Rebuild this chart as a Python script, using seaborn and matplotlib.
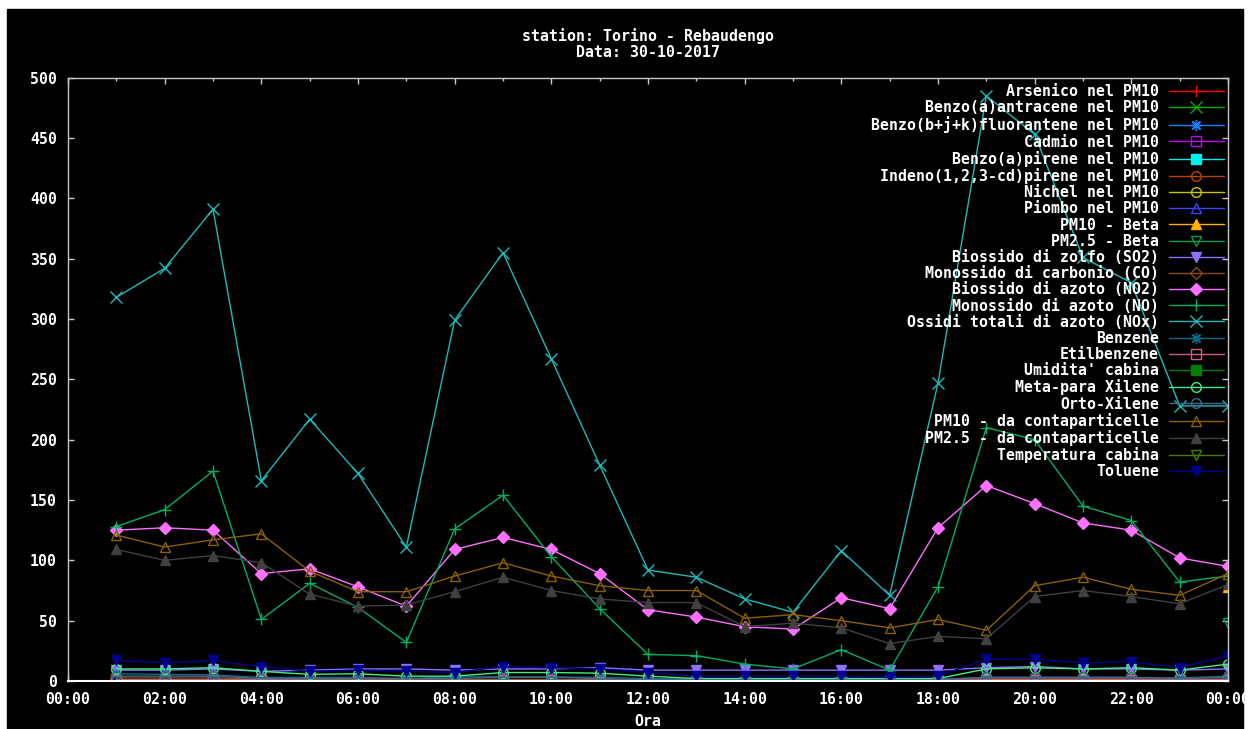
import numpy as np
import matplotlib
matplotlib.use("Agg")
import matplotlib.pyplot as plt
from matplotlib.lines import Line2D
from matplotlib.patches import Rectangle
import seaborn as sns

# ---------------- data ----------------
hours = list(range(1, 25))
xtick_pos = list(range(0, 25, 2))
xtick_labels = ["00:00", "02:00", "04:00", "06:00", "08:00", "10:00", "12:00",
                "14:00", "16:00", "18:00", "20:00", "22:00", "00:00"]
ytick_pos = list(range(0, 501, 50))

nan = np.nan
arsenico = [nan] * 23 + [0.6]
benzo_a_antracene = [nan] * 23 + [0.1]
benzo_bjk_fluorantene = [nan] * 23 + [0.3]
cadmio = [nan] * 23 + [0.1]
benzo_a_pirene = [nan] * 23 + [0.1]
indeno = [nan] * 23 + [0.1]
nichel = [nan] * 23 + [2.1]
piombo = [nan] * 23 + [0.02]
pm10_beta = [nan] * 23 + [78]
pm25_beta = [nan] * 23 + [48]
so2 = [9, 9, 10, 8, 9, 10, 10, 9, 10, 10, 11, 9, 9, 9, 9, 9, 9, 9, 11, 12, 10, 10, 9, 10]
co = [2.5, 2.5, 2.5, 1.5, 1.2, 1.2, 1.0, 1.0, 1.2, 1.2, 1.0, 0.8, 0.7, 0.6, 0.6, 0.7,
      0.7, 0.9, 2.0, 2.0, 2.0, 2.0, 1.5, 1.6]
no2 = [125, 127, 125, 89, 93, 78, 62, 109, 119, 109, 89, 59, 53, 45, 43, 69, 60, 127,
       162, 147, 131, 125, 102, 95]
no = [128, 142, 174, 51, 81, 61, 32, 126, 154, 103, 60, 22, 21, 14, 10, 26, 9, 78,
      210, 200, 145, 133, 82, 87]
nox = [318, 342, 391, 166, 217, 172, 111, 299, 355, 267, 179, 92, 86, 68, 57, 108, 71,
       247, 485, 453, 351, 330, 228, 228]
benzene = [6, 5.5, 5, 3, 3, 3, 2, 3.5, 3.5, 3.5, 3, 2, 1.5, 1.5, 1.5, 1.5, 1.5, 1.5,
           3, 3, 3, 3, 2.5, 4]
etilbenzene = [1, 1, 1, 1, 0.5, 0.5, 0.5, 0.5, 0.5, 0.5, 0.5, 0.5, 0.3, 0.3, 0.3, 0.3,
               0.3, 0.3, 1, 1, 1, 1, 0.8, 1]
umidita = [nan] * 24
meta_para_xilene = [10, 10, 11, 8, 5.5, 6, 4, 4, 7, 7, 6.5, 4, 2, 2, 2, 2, 2, 2,
                    10, 11, 10, 11, 9, 14]
orto_xilene = [4, 4, 4, 2, 2, 2, 2, 2, 3, 3, 2, 1, 1, 1, 1, 1, 1, 1, 3, 3, 3, 3, 2, 3]
pm10_cp = [121, 111, 117, 122, 91, 74, 74, 87, 98, 87, 79, 75, 75, 52, 55, 50, 44, 51,
           42, 79, 86, 76, 71, 89]
pm25_cp = [109, 100, 104, 98, 72, 62, 63, 74, 86, 75, 68, 65, 65, 45, 48, 44, 31, 37,
           35, 70, 75, 70, 64, 80]
temperatura = [nan] * 24
toluene = [17, 15, 17, 12, 8, 9, 8, 7, 12, 11, 10, 7, 4, 4, 4, 4, 3, 4, 18, 18, 15, 16, 11, 21]

ASTER = (8, 2, 0)
series = [
    ("Arsenico nel PM10", arsenico, "#ff0000", "+", True),
    ("Benzo(a)antracene nel PM10", benzo_a_antracene, "#00b000", "x", True),
    ("Benzo(b+j+k)fluorantene nel PM10", benzo_bjk_fluorantene, "#1a7fff", ASTER, True),
    ("Cadmio nel PM10", cadmio, "#c000ff", "s", False),
    ("Benzo(a)pirene nel PM10", benzo_a_pirene, "#00eeee", "s", True),
    ("Indeno(1,2,3-cd)pirene nel PM10", indeno, "#c04000", "o", False),
    ("Nichel nel PM10", nichel, "#c8c800", "o", False),
    ("Piombo nel PM10", piombo, "#4040ff", "^", False),
    ("PM10 - Beta", pm10_beta, "#ffb000", "^", True),
    ("PM2.5 - Beta", pm25_beta, "#00a050", "v", False),
    ("Biossido di zolfo (SO2)", so2, "#9070ff", "v", True),
    ("Monossido di carbonio (CO)", co, "#8b4a10", "D", False),
    ("Biossido di azoto (NO2)", no2, "#ff70ff", "D", True),
    ("Monossido di azoto (NO)", no, "#00b060", "+", True),
    ("Ossidi totali di azoto (NOx)", nox, "#20b8b8", "x", True),
    ("Benzene", benzene, "#106888", ASTER, True),
    ("Etilbenzene", etilbenzene, "#d06088", "s", False),
    ("Umidita' cabina", umidita, "#008000", "s", True),
    ("Meta-para Xilene", meta_para_xilene, "#40f080", "o", False),
    ("Orto-Xilene", orto_xilene, "#406888", "o", False),
    ("PM10 - da contaparticelle", pm10_cp, "#8b6000", "^", False),
    ("PM2.5 - da contaparticelle", pm25_cp, "#404040", "^", True),
    ("Temperatura cabina", temperatura, "#408000", "v", False),
    ("Toluene", toluene, "#000090", "v", True),
]

# ---------------- style ----------------
sns.set_theme(style="dark")
plt.rcParams["font.family"] = ["DejaVu Sans Mono", "DejaVu Sans"]
plt.rcParams["font.weight"] = "bold"

fig = plt.figure(figsize=(12.5, 7.29), dpi=100)
fig.patch.set_facecolor("white")
fig.patches.append(Rectangle((7 / 1250, 0), (1243 - 7) / 1250, 1 - 9 / 729,
                             transform=fig.transFigure, color="black", zorder=-10))

ax = fig.add_axes([68 / 1250, 1 - 681 / 729, 1160 / 1250, (681 - 77.7) / 729])
ax.set_facecolor("black")

def msize(m):
    if m in ("+", "x") or m == ASTER:
        return 8
    if m == "D":
        return 6
    return 7

handles = []
for name, vals, col, mk, filled in series:
    kw = dict(color=col, marker=mk, markersize=msize(mk), markeredgecolor=col,
              markerfacecolor=col if filled else "none", markeredgewidth=1.0,
              linewidth=1.0)
    arr = np.array(vals, dtype=float)
    if np.isfinite(arr).any():
        sns.lineplot(x=hours, y=vals, ax=ax, legend=False, **kw)
    handles.append(Line2D([0], [0], label=name, **kw))

ax.set_xlim(0, 24)
ax.set_ylim(0, 500)
ax.set_xticks(xtick_pos)
ax.set_xticklabels(xtick_labels)
ax.set_xticks(range(0, 25), minor=True)
ax.set_yticks(ytick_pos)
ax.grid(False)

for s in ("left", "right", "top"):
    ax.spines[s].set_color("#c8c8c8")
    ax.spines[s].set_linewidth(1.0)
ax.spines["bottom"].set_color("white")
ax.spines["bottom"].set_linewidth(1.5)

ax.tick_params(axis="both", which="both", direction="in", colors="#c8c8c8",
               labelcolor="white", labelsize=10.7, top=True, right=True,
               bottom=True, left=True)
ax.tick_params(axis="both", which="major", length=4, width=1, pad=8)
ax.tick_params(axis="x", which="minor", length=2, width=1)
for t in ax.get_xticklabels() + ax.get_yticklabels():
    t.set_fontweight("bold")

ax.set_xlabel("Ora", color="white", fontsize=10.7, fontweight="bold", labelpad=5)
ax.set_ylabel("")
ax.set_title("station: Torino - Rebaudengo\nData: 30-10-2017", color="white",
             fontsize=10.7, fontweight="bold", pad=15, linespacing=1.1)

leg = ax.legend(handles=handles, loc="upper right", bbox_to_anchor=(1.004, 1.004),
                frameon=False, markerfirst=False, fontsize=10.7, handlelength=3.7,
                handletextpad=0.65, labelspacing=0.08, borderaxespad=0.2)
for t in leg.get_texts():
    t.set_color("white")
    t.set_fontweight("bold")

fig.savefig("out.png", dpi=100, facecolor=fig.get_facecolor())
